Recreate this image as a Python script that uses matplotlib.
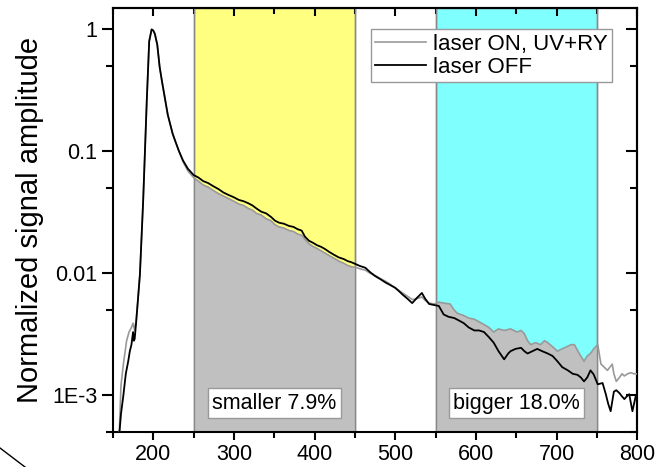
import numpy as np
import matplotlib
matplotlib.use('Agg')
import matplotlib.pyplot as plt
from matplotlib.ticker import FixedLocator, MultipleLocator, FuncFormatter
from matplotlib.lines import Line2D
import matplotlib.transforms as mtransforms

plt.rcParams['font.family'] = ['Liberation Sans', 'DejaVu Sans']

# laser OFF (black)
x_off = [157, 160, 163, 166, 169, 171, 173, 175, 176, 177, 179, 181, 183.5, 185.5, 187.5, 190, 192, 195, 198,
         200, 202, 205, 208, 211, 215, 218, 221, 224, 227, 232, 237, 243, 250,
         256, 262, 268, 274, 281, 287, 293, 300, 306, 312, 318, 323, 328, 334, 340, 346, 351, 356,
         362, 368, 374, 379, 384, 388, 393, 398, 403, 408, 413, 418, 424, 430, 436, 441, 446, 451,
         456, 463, 469, 475, 481, 488, 494, 500, 505, 509, 515, 521, 527, 533, 537, 542, 548, 554,
         560, 566, 573, 579, 585, 591, 598, 604, 610, 616, 622, 628, 635, 640, 643, 649, 656, 660,
         664, 670, 676, 682, 689, 695, 701, 707, 714, 720, 726, 730, 734, 738, 742, 746, 751, 757,
         761, 764, 767, 771, 774, 778, 781, 784, 787, 790, 794, 798, 800]
y_off = [4e-4, 7e-4, 1.0e-3, 1.5e-3, 1.9e-3, 2.3e-3, 2.6e-3, 3.3e-3, 2.8e-3, 2.9e-3, 4.1e-3, 6e-3, 9.8e-3, 0.02, 0.039, 0.11, 0.26, 0.8, 1.0,
         0.98, 0.92, 0.75, 0.49, 0.37, 0.26, 0.2, 0.168, 0.14, 0.123, 0.1, 0.084, 0.072, 0.064,
         0.061, 0.057, 0.055, 0.052, 0.049, 0.046, 0.044, 0.042, 0.040, 0.039, 0.0375, 0.036, 0.034, 0.032, 0.031, 0.029, 0.027, 0.026,
         0.0255, 0.0245, 0.024, 0.023, 0.0224, 0.020, 0.0185, 0.0178, 0.017, 0.0165, 0.0158, 0.015, 0.0142, 0.0135, 0.0131, 0.0126, 0.0123, 0.0119,
         0.0115, 0.0111, 0.0102, 0.0095, 0.0090, 0.0084, 0.0080, 0.0076, 0.0071, 0.0067, 0.0062, 0.0057, 0.0063, 0.0069, 0.0062, 0.0056, 0.0055, 0.0054,
         0.0046, 0.0044, 0.0043, 0.0041, 0.0039, 0.0036, 0.0034, 0.0034, 0.0033, 0.0030, 0.0027, 0.0023, 0.00197, 0.0022, 0.0023, 0.0024, 0.00245, 0.0023,
         0.0022, 0.0023, 0.0024, 0.0023, 0.0022, 0.0021, 0.0019, 0.0017, 0.0016, 0.0015, 0.00147, 0.0014, 0.0013, 0.0014, 0.0016, 0.00148, 0.00123, 0.00126,
         0.00102, 0.00085, 0.00074, 0.00107, 0.0011, 0.00104, 0.00098, 0.00093, 0.00098, 0.00102, 0.00074, 0.00098, 0.00097]

# laser ON, UV+RY (gray)
x_on = [158, 160, 163, 167, 170, 173, 175, 177, 179, 181, 183.5, 185.5, 187.5, 190, 192, 195, 198,
        200, 202, 205, 208, 211, 215, 218, 221, 224, 227, 232, 237, 243, 250,
        256, 262, 268, 274, 281, 287, 293, 300, 306, 312, 318, 323, 328, 334, 340, 346, 351, 356,
        362, 368, 374, 379, 384, 388, 393, 398, 403, 408, 413, 418, 424, 430, 436, 441, 446, 451,
        456, 463, 469, 475, 481, 488, 494, 500, 505, 509, 515, 521, 527, 533, 537, 542, 548, 554,
        560, 568, 573, 577, 585, 591, 598, 604, 610, 616, 622, 628, 635, 643, 651, 656, 660,
        664, 668, 674, 680, 685, 689, 695, 701, 707, 713, 718, 722, 728, 734, 738, 742, 746, 751,
        755, 759, 763, 766, 769, 771, 774, 778, 781, 784, 788, 792, 796, 800]
y_on = [5e-4, 1.2e-3, 1.8e-3, 2.8e-3, 3.3e-3, 3.6e-3, 3.9e-3, 3.4e-3, 4.2e-3, 6e-3, 9.8e-3, 0.02, 0.039, 0.11, 0.26, 0.8, 1.0,
        0.98, 0.92, 0.75, 0.49, 0.37, 0.26, 0.2, 0.168, 0.14, 0.123, 0.1, 0.082, 0.069, 0.061,
        0.057, 0.053, 0.051, 0.048, 0.045, 0.043, 0.041, 0.039, 0.037, 0.036, 0.034, 0.033, 0.031, 0.030, 0.028, 0.027, 0.025, 0.024,
        0.0235, 0.0225, 0.022, 0.021, 0.0205, 0.019, 0.0175, 0.0166, 0.016, 0.0153, 0.0146, 0.014, 0.0133, 0.0126, 0.0121, 0.0116, 0.0113, 0.0112,
        0.0109, 0.0106, 0.0100, 0.0096, 0.0091, 0.0086, 0.0081, 0.0076, 0.0072, 0.0069, 0.0065, 0.0061, 0.0062, 0.0064, 0.0060, 0.0057, 0.0056, 0.0058,
        0.0057, 0.0056, 0.0050, 0.0047, 0.0045, 0.0043, 0.0042, 0.0040, 0.0038, 0.0036, 0.0033, 0.0035, 0.0034, 0.0035, 0.0033, 0.0034, 0.0032,
        0.0028, 0.0026, 0.0027, 0.0026, 0.0028, 0.0027, 0.0025, 0.0023, 0.0024, 0.0025, 0.0026, 0.0026, 0.0022, 0.0019, 0.0021, 0.0022, 0.0024, 0.0026,
        0.0018, 0.0017, 0.0016, 0.0017, 0.0018, 0.0015, 0.0013, 0.0014, 0.0015, 0.00144, 0.0015, 0.00153, 0.0015, 0.0015]

spans = [(250, 450), (550, 750)]
span_colors = ['#ffff80', '#80ffff']
span_labels = ['smaller 7.9%', 'bigger 18.0%']

fig = plt.figure(figsize=(6.68, 4.67), dpi=100)
ax = fig.add_axes([0.169, 0.075, 0.785, 0.908])

x_on_a = np.array(x_on)
y_on_a = np.array(y_on)
trans = mtransforms.blended_transform_factory(ax.transData, ax.transAxes)
for (a, b), c, lab in zip(spans, span_colors, span_labels):
    ax.axvspan(a, b, facecolor=c, edgecolor='#888888', lw=1, zorder=0)
    m = (x_on_a > a) & (x_on_a < b)
    xs = np.concatenate([[a], x_on_a[m], [b]])
    ys = np.concatenate([[np.interp(a, x_on_a, y_on_a)], y_on_a[m], [np.interp(b, x_on_a, y_on_a)]])
    ax.fill_between(xs, ys, 1e-5, color='#c0c0c0', lw=0, zorder=1)
    ax.vlines([a, b], 1e-5, 10, color='#888888', lw=1, zorder=1.5)
    ax.text((a + b) / 2, 0.068, lab, transform=trans, ha='center', va='center', fontsize=15.5, zorder=5,
            bbox=dict(boxstyle='square,pad=0.2', facecolor='white', edgecolor='#999999', lw=1))

ax.plot(x_on, y_on, color='#999999', lw=1.2, label='laser ON, UV+RY', zorder=3)
ax.plot(x_off, y_off, color='black', lw=1.3, label='laser OFF', zorder=4)

ax.set_yscale('log')
ax.set_xlim(150, 800)
ax.set_ylim(5e-4, 1.5)

xmajor = [200, 300, 400, 500, 600, 700, 800]
ymajor = [1e-3, 1e-2, 1e-1, 1]
yminor = [5e-4, 5e-3, 5e-2, 5e-1]
ax.xaxis.set_major_locator(FixedLocator(xmajor))
ax.xaxis.set_minor_locator(MultipleLocator(50))
ax.yaxis.set_major_locator(FixedLocator(ymajor))
ax.yaxis.set_minor_locator(FixedLocator(yminor))
ylabels = {1e-3: '1E-3', 1e-2: '0.01', 1e-1: '0.1', 1: '1'}
ax.yaxis.set_major_formatter(FuncFormatter(lambda v, p: ylabels.get(min(ylabels, key=lambda k: abs(np.log10(k) - np.log10(v))), '')))
ax.yaxis.set_minor_formatter(FuncFormatter(lambda v, p: ''))

for s in ax.spines.values():
    s.set_linewidth(1.5)
ax.tick_params(which='both', width=1.5, labelsize=15.5, color='black')
ax.tick_params(axis='x', which='major', direction='out', length=6, pad=3)
ax.tick_params(axis='x', which='minor', direction='out', length=4)
ax.tick_params(axis='y', which='major', direction='out', length=8, pad=3)
ax.tick_params(axis='y', which='minor', direction='out', length=5)

ax2 = ax.secondary_xaxis('top')
ax2.xaxis.set_major_locator(FixedLocator(xmajor))
ax2.xaxis.set_minor_locator(MultipleLocator(50))
ax2.tick_params(which='major', direction='in', length=6, width=1.5, labeltop=False)
ax2.tick_params(which='minor', direction='in', length=4, width=1.5)
ax2.spines['top'].set_linewidth(1.5)
ay2 = ax.secondary_yaxis('right')
ay2.yaxis.set_major_locator(FixedLocator(ymajor))
ay2.yaxis.set_minor_locator(FixedLocator(yminor))
ay2.tick_params(which='major', direction='in', length=8, width=1.5, labelright=False)
ay2.tick_params(which='minor', direction='in', length=5, width=1.5)
ay2.spines['right'].set_linewidth(1.5)

ax.set_ylabel('Normalized signal amplitude', fontsize=21, labelpad=6)

leg = ax.legend(loc='upper right', bbox_to_anchor=(0.952, 0.95), borderaxespad=0, fontsize=16,
                fancybox=False, framealpha=1, edgecolor='#999999', handlelength=2.3,
                borderpad=0.2, labelspacing=0.1, handletextpad=0.3)
leg.get_frame().set_linewidth(1)
leg.set_zorder(10)

fig.add_artist(Line2D([0, 25 / 668], [1 - 448 / 467, 0], color='black', lw=1, transform=fig.transFigure))

fig.savefig('out.png', dpi=100)
